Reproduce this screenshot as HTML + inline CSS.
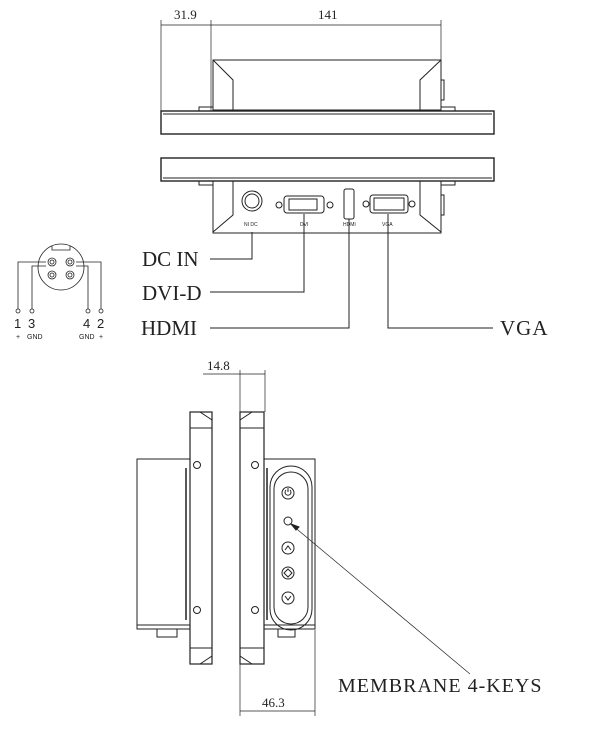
<!DOCTYPE html>
<html><head><meta charset="utf-8"><style>
html,body{margin:0;padding:0;background:#fff;}
svg{display:block;}
text{font-family:"Liberation Serif",serif;fill:#222;}
.s{font-family:"Liberation Sans",sans-serif;}
</style></head><body>
<svg width="605" height="732" viewBox="0 0 605 732" xmlns="http://www.w3.org/2000/svg" fill="none" stroke="#222" stroke-width="1">
<!-- top dims -->
<line x1="161" y1="20" x2="161" y2="111" stroke-width="0.7"/>
<line x1="211" y1="20" x2="211" y2="111" stroke-width="0.7"/>
<line x1="441" y1="20" x2="441" y2="60" stroke-width="0.7"/>
<line x1="161" y1="25" x2="441" y2="25" stroke-width="0.7"/>
<text x="174" y="19" font-size="13" stroke="none">31.9</text>
<text x="318" y="19" font-size="13" stroke="none">141</text>
<!-- top view -->
<rect x="213" y="60" width="228" height="50"/>
<polyline points="213,60 233,80 233,110"/>
<polyline points="441,60 420,80 420,110"/>
<rect x="199" y="107" width="14" height="4"/>
<rect x="441" y="107" width="14" height="4"/>
<rect x="441" y="80" width="3" height="20"/>
<rect x="161" y="111" width="333" height="23" stroke-width="1.4"/>
<line x1="163" y1="114" x2="492" y2="114"/>
<!-- bottom view -->
<rect x="161" y="158" width="333" height="23" stroke-width="1.4"/>
<line x1="163" y1="178" x2="492" y2="178"/>
<rect x="199" y="181" width="14" height="4"/>
<rect x="441" y="181" width="14" height="4"/>
<rect x="213" y="181" width="228" height="52"/>
<polyline points="233,181 233,215 213,232"/>
<polyline points="420,181 420,215 441,232"/>
<rect x="441" y="195" width="3" height="20"/>
<circle cx="252" cy="201" r="10"/><circle cx="252" cy="201" r="7"/>
<rect x="284" y="196" width="40" height="17" rx="3"/><rect x="289" y="199" width="28" height="11"/>
<circle cx="279" cy="205" r="3"/><circle cx="330" cy="205" r="3"/>
<rect x="344" y="189" width="10" height="30" rx="2"/>
<rect x="370" y="195" width="38" height="18" rx="3"/><rect x="374" y="198" width="30" height="12"/>
<circle cx="366" cy="204" r="3"/><circle cx="412" cy="204" r="3"/>
<text x="244" y="226" font-size="5" class="s" stroke="none" fill="#222">NI DC</text>
<text x="300" y="226" font-size="5" class="s" stroke="none">DVI</text>
<text x="343" y="226" font-size="5" class="s" stroke="none">HDMI</text>
<text x="382" y="226" font-size="5" class="s" stroke="none">VGA</text>
<!-- leaders -->
<polyline points="210,259 252,259 252,232"/>
<polyline points="210,292 304,292 304,214"/>
<polyline points="210,328 349,328 349,219"/>
<polyline points="388,214 388,328 493,328"/>
<text x="142" y="266" font-size="21" stroke="none">DC IN</text>
<text x="142" y="300" font-size="21" stroke="none">DVI-D</text>
<text x="141" y="335" font-size="21" stroke="none">HDMI</text>
<text x="500" y="335" font-size="21" letter-spacing="1" stroke="none">VGA</text>
<!-- pin diagram -->
<g stroke-width="0.8">
<circle cx="61" cy="267" r="23"/>
<polyline points="52,246 52,250 70,250 70,246"/>
<circle cx="52" cy="262" r="4"/><circle cx="52" cy="262" r="2"/>
<circle cx="70" cy="262" r="4"/><circle cx="70" cy="262" r="2"/>
<circle cx="52" cy="275" r="4"/><circle cx="52" cy="275" r="2"/>
<circle cx="70" cy="275" r="4"/><circle cx="70" cy="275" r="2"/>
<polyline points="46,262 18,262 18,309"/>
<polyline points="76,262 101,262 101,309"/>
<polyline points="46,266 32,266 32,309"/>
<polyline points="76,266 88,266 88,309"/>
<circle cx="18" cy="311" r="2"/><circle cx="32" cy="311" r="2"/><circle cx="88" cy="311" r="2"/><circle cx="101" cy="311" r="2"/>
</g>
<text x="14" y="328" font-size="13" class="s" stroke="none">1</text>
<text x="28" y="328" font-size="13" class="s" stroke="none">3</text>
<text x="83" y="328" font-size="13" class="s" stroke="none">4</text>
<text x="97" y="328" font-size="13" class="s" stroke="none">2</text>
<text x="16" y="339" font-size="7" class="s" stroke="none">+</text>
<text x="27" y="339" font-size="7" class="s" stroke="none">GND</text>
<text x="79" y="339" font-size="7" class="s" stroke="none">GND</text>
<text x="99" y="339" font-size="7" class="s" stroke="none">+</text>
<!-- side view -->
<text x="207" y="370" font-size="13" stroke="none">14.8</text>
<line x1="203" y1="374" x2="265" y2="374" stroke-width="0.7"/>
<line x1="240" y1="370" x2="240" y2="716" stroke-width="0.7"/>
<line x1="265" y1="370" x2="265" y2="412" stroke-width="0.7"/>
<line x1="315" y1="630" x2="315" y2="716" stroke-width="0.7"/>
<line x1="240" y1="711" x2="315" y2="711" stroke-width="0.7"/>
<text x="262" y="707" font-size="13" stroke="none">46.3</text>
<rect x="137" y="459" width="53" height="170"/>
<line x1="137" y1="625" x2="190" y2="625"/>
<line x1="186" y1="468" x2="186" y2="620" stroke-width="1.5"/>
<rect x="190" y="412" width="22" height="252" stroke-width="1.2"/>
<polyline points="200,412 212,420 212,428 200,428 190,428"/>
<polyline points="200,664 212,656 212,648 190,648"/>
<rect x="240" y="412" width="24" height="252" stroke-width="1.2"/>
<polyline points="252,412 240,420 240,428 264,428"/>
<polyline points="252,664 240,656 240,648 264,648"/>
<rect x="264" y="459" width="51" height="170"/>
<line x1="264" y1="625" x2="315" y2="625"/>
<line x1="267" y1="468" x2="267" y2="620" stroke-width="1.5"/>
<rect x="270" y="466" width="42" height="164" rx="21"/>
<rect x="274" y="472" width="34" height="152" rx="17"/>
<circle cx="197" cy="465" r="3.5"/><circle cx="197" cy="610" r="3.5"/>
<circle cx="255" cy="465" r="3.5"/><circle cx="255" cy="610" r="3.5"/>
<rect x="157" y="629" width="20" height="8"/><rect x="278" y="629" width="17" height="8"/>
<circle cx="288" cy="493" r="6"/><path d="M286,490 a3,3 0 1 0 4,0 M288,488 v4"/>
<circle cx="288" cy="521" r="4"/>
<circle cx="288" cy="548" r="6"/><path d="M285,550 l3,-4 l3,4"/>
<circle cx="288" cy="573" r="6"/><path d="M288,569 l4,4 l-4,4 l-4,-4 z"/>
<circle cx="288" cy="598" r="6"/><path d="M285,596 l3,4 l3,-4"/>
<line x1="292" y1="525" x2="470" y2="674" stroke-width="0.7"/>
<path d="M291,524 l8,3 l-3,3 z" fill="#222"/>
<text x="338" y="692" font-size="20" letter-spacing="1" stroke="none">MEMBRANE  4-KEYS</text>
</svg>
</body></html>
